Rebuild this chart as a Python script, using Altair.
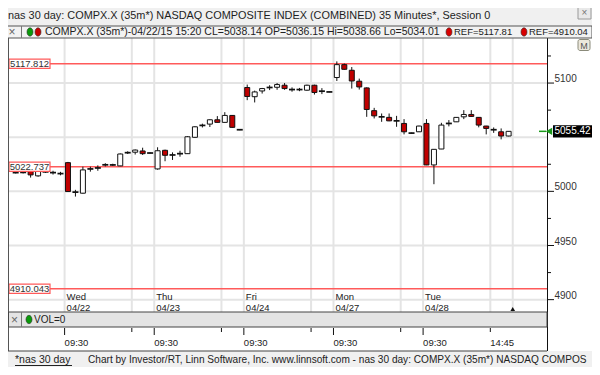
import altair as alt
import pandas as pd

# ---------------- data ----------------
day_names = ["Wed", "Thu", "Fri", "Mon", "Tue"]
day_dates = ["04/22", "04/23", "04/24", "04/27", "04/28"]
bars_per_day = 12          # 35-minute bars, 09:30 .. 15:55
prior_bars = 7             # bars of Tue 04/21 still visible at the left
bar_1445 = 9               # 09:30 + 9*35min = 14:45

opens = [5017.3, 5017.5, 5018.9, 5014.3, 5018.0, 5017.3, 5016.4,
         5026.5, 4999.3, 4998.3, 5020.7, 5021.6, 5024.5, 5024.4, 5023.5, 5035.7, 5036.15, 5037.3, 5035.4,
         5020.7, 5037.9, 5033.6, 5034.8, 5034.8, 5049.9, 5060.9, 5062.1, 5066.1, 5063.7, 5070.1, 5056.9,
         5095.9, 5087.4, 5092.7, 5095.9, 5096.1, 5098.0, 5094.0, 5094.0, 5093.4, 5098.0, 5092.5, 5091.8,
         5105.1, 5117.0, 5111.8, 5101.7, 5095.5, 5074.5, 5068.8, 5068.3, 5065.1, 5062.7, 5053.8, 5055.0,
         5062.7, 5024.4, 5039.1, 5062.7, 5064.2, 5068.8, 5071.0, 5068.3, 5060.3, 5056.9, 5055.0, 5051.1]
highs = [5018.5, 5018.5, 5019.5, 5019.5, 5019.0, 5019.0, 5018.0,
         5027.2, 5001.4, 5022.8, 5022.8, 5024.0, 5026.0, 5025.5, 5035.0, 5037.0, 5038.66, 5040.3, 5036.0,
         5040.7, 5038.5, 5036.0, 5037.5, 5051.0, 5060.0, 5062.5, 5066.5, 5069.5, 5073.1, 5070.5, 5057.3,
         5098.6, 5093.0, 5095.5, 5098.0, 5100.0, 5100.0, 5096.0, 5095.5, 5098.5, 5098.5, 5095.3, 5092.0,
         5120.0, 5118.0, 5114.8, 5104.1, 5096.0, 5077.1, 5071.9, 5071.9, 5069.7, 5066.7, 5054.2, 5060.6,
         5066.7, 5039.0, 5063.3, 5065.8, 5068.5, 5075.0, 5075.0, 5068.5, 5060.5, 5059.0, 5058.1, 5055.6]
lows = [5016.5, 5016.5, 5012.7, 5013.5, 5017.0, 5015.5, 5014.8,
        4999.5, 4995.2, 4998.0, 5018.2, 5019.0, 5023.0, 5023.5, 5023.3, 5034.5, 5034.01, 5033.6, 5035.0,
        5020.0, 5027.8, 5029.0, 5032.0, 5034.5, 5049.5, 5059.0, 5059.4, 5063.5, 5063.5, 5058.8, 5056.5,
        5084.2, 5082.1, 5090.3, 5093.5, 5093.8, 5093.8, 5092.0, 5092.5, 5093.0, 5089.4, 5089.8, 5091.5,
        5101.9, 5112.3, 5094.9, 5094.0, 5068.8, 5067.3, 5064.2, 5064.8, 5059.6, 5052.6, 5053.4, 5054.8,
        5024.2, 5006.6, 5039.0, 5060.0, 5064.0, 5066.7, 5068.8, 5059.1, 5052.6, 5054.0, 5048.0, 5050.8]
closes = [5017.3, 5017.5, 5015.2, 5018.9, 5018.0, 5017.3, 5016.4,
          4999.8, 4999.3, 5019.8, 5020.7, 5021.6, 5024.5, 5024.4, 5034.5, 5035.7, 5038.14, 5034.8, 5035.4,
          5037.5, 5033.3, 5033.6, 5034.8, 5050.4, 5059.6, 5060.9, 5066.1, 5063.7, 5070.1, 5059.1, 5056.9,
          5087.6, 5091.8, 5094.9, 5095.9, 5098.6, 5094.9, 5094.0, 5094.0, 5098.0, 5091.3, 5092.5, 5091.8,
          5117.0, 5112.7, 5101.9, 5096.4, 5075.6, 5069.7, 5068.8, 5065.1, 5065.1, 5055.0, 5053.8, 5060.3,
          5024.4, 5038.8, 5061.2, 5062.7, 5068.3, 5071.0, 5069.2, 5061.2, 5058.1, 5056.9, 5051.1, 5055.42]

ref_levels = [5117.812, 5022.737, 4910.043]
grid_levels = [5100, 5050, 5000, 4950, 4900]
axis_minor = [4925, 4975, 5025, 5075, 5125]
axis_major = [4900, 4950, 5000, 5100]
last_price = 5055.42

title_text = "nas 30 day: COMPX.X (35m*) NASDAQ COMPOSITE INDEX (COMBINED) 35 Minutes*, Session 0"
header_text = "COMPX.X (35m*)-04/22/15 15:20 CL=5038.14 OP=5036.15 Hi=5038.66 Lo=5034.01"
ref_header = ["REF=5117.81", "REF=4910.04"]
footer_link = "*nas 30 day"
footer_text = "Chart by Investor/RT, Linn Software, Inc. www.linnsoft.com - nas 30 day: COMPX.X (35m*) NASDAQ COMPOS"

# ---------------- tables ----------------
rows = []
for k, (o, h, l, c) in enumerate(zip(opens, highs, lows, closes)):
    kind = "up" if c > o + 0.05 else ("down" if c < o - 0.05 else "doji")
    rows.append({"i": k - prior_bars, "o": o, "h": h, "l": l, "c": c, "kind": kind})
candles = pd.DataFrame(rows)

start_ticks = [d * bars_per_day - 0.45 for d in range(len(day_names))]
mid_ticks = [d * bars_per_day + bar_1445 - 0.45 for d in range(len(day_names))]
next_day_tick = len(day_names) * bars_per_day - 0.45
vgrid = pd.DataFrame({"i": start_ticks + mid_ticks + [next_day_tick]})
days_df = pd.DataFrame({"i": start_ticks, "name": day_names, "date": day_dates})
mid_df = pd.DataFrame({"i": mid_ticks})
last_mid_df = pd.DataFrame({"i": [mid_ticks[-1]], "t": ["14:45"]})
hgrid = pd.DataFrame({"v": grid_levels})
refs = pd.DataFrame({"v": ref_levels, "label": [f"{v:.3f}" for v in ref_levels]})
minor_df = pd.DataFrame({"v": axis_minor})
major_df = pd.DataFrame({"v": axis_major, "label": [str(v) for v in axis_major]})
price_df = pd.DataFrame({"v": [last_price], "label": [f"{last_price:.2f}"]})
now_df = pd.DataFrame({"i": [next_day_tick]})
one = pd.DataFrame({"a": [0]})

# ---------------- geometry ----------------
W, H = 539, 274
XS = alt.Scale(domain=[-7.3587, 63.469], nice=False, zero=False)
YS = alt.Scale(domain=[4888.6, 5141.6], nice=False, zero=False)
FONT = "Liberation Sans"


def X(f="i"):
    return alt.X(f"{f}:Q", scale=XS, axis=None)


def Y(f="v"):
    return alt.Y(f"{f}:Q", scale=YS, axis=None)


def box(x, x2, y, y2, fill, stroke=None, sw=1.0):
    kw = {"fill": fill}
    if stroke:
        kw.update(stroke=stroke, strokeWidth=sw)
    return alt.Chart(one).mark_rect(**kw).encode(
        x=alt.value(x), x2=alt.value(x2), y=alt.value(y), y2=alt.value(y2))


def line(x, x2, y, y2, color, sw=1.0):
    return alt.Chart(one).mark_rule(color=color, strokeWidth=sw).encode(
        x=alt.value(x), x2=alt.value(x2), y=alt.value(y), y2=alt.value(y2))


def txt(s, x, y, size=10, color="#222", font=FONT, align="left", baseline="middle", weight="normal"):
    return alt.Chart(one).mark_text(text=s, align=align, baseline=baseline, fontSize=size,
                                    font=font, color=color, fontWeight=weight).encode(
        x=alt.value(x), y=alt.value(y))


def oval(x, y, color, size=70):
    return alt.Chart(one).mark_point(
        shape="M0,-1A0.72,1 0 1,1 0,1A0.72,1 0 1,1 0,-1Z", filled=True, size=size,
        fill=color, stroke="#333", strokeWidth=0.6, opacity=1).encode(x=alt.value(x), y=alt.value(y))


layers = []
# panels
layers.append(box(0, 584, 0, 313, "#ffffff"))
# gridlines
layers.append(alt.Chart(hgrid).mark_rule(color="#e4e4e4", strokeWidth=2).encode(
    y=Y(), x=alt.value(0), x2=alt.value(W)))
layers.append(alt.Chart(vgrid).mark_rule(color="#e4e4e4", strokeWidth=2).encode(
    x=X(), y=alt.value(0), y2=alt.value(H)))
# reference lines
layers.append(alt.Chart(refs).mark_rule(color="#ff5a5a", strokeWidth=1.6).encode(
    y=Y(), x=alt.value(0), x2=alt.value(W)))
# day labels
layers.append(alt.Chart(days_df).mark_text(align="left", baseline="middle", dx=2, fontSize=9.5,
                                           font=FONT, color="#222").encode(
    x=X(), y=alt.value(259), text="name:N"))
layers.append(alt.Chart(days_df).mark_text(align="left", baseline="middle", dx=2, fontSize=9.5,
                                           font=FONT, color="#222").encode(
    x=X(), y=alt.value(270), text="date:N"))
# candles
layers.append(alt.Chart(candles).mark_rule(color="#111", strokeWidth=1).encode(
    x=X(), y=Y("l"), y2="h:Q"))
layers.append(alt.Chart(candles).transform_filter("datum.kind != 'doji'").mark_bar(
    width=5, stroke="#111", strokeWidth=1).encode(
    x=X(), y=Y("o"), y2="c:Q",
    fill=alt.Fill("kind:N", scale=alt.Scale(domain=["up", "down"], range=["#ffffff", "#c00000"]),
                  legend=None)))
layers.append(alt.Chart(candles).transform_filter("datum.kind == 'doji'").transform_calculate(
    lo="datum.c - 0.8", hi="datum.c + 0.8").mark_bar(width=6, fill="#111").encode(
    x=X(), y=Y("lo"), y2="hi:Q"))
# reference labels
layers.append(alt.Chart(refs).transform_calculate(lo="datum.v - 4.3", hi="datum.v + 4.3").mark_rect(
    fill="#ffffff", stroke="#ff5a5a", strokeWidth=1.2).encode(
    y=Y("lo"), y2="hi:Q", x=alt.value(1), x2=alt.value(42)))
layers.append(alt.Chart(refs).mark_text(align="center", baseline="middle", fontSize=9.5, font=FONT,
                                        color="#333").encode(
    y=Y(), x=alt.value(21.5), text="label:N"))
# right axis
layers.append(line(539.5, 539.5, 0, 313, "#111", 1))
layers.append(alt.Chart(minor_df).mark_rule(color="#111").encode(
    y=Y(), x=alt.value(539), x2=alt.value(543)))
layers.append(alt.Chart(major_df).mark_rule(color="#111").encode(
    y=Y(), x=alt.value(539), x2=alt.value(546)))
layers.append(alt.Chart(major_df).mark_text(align="left", baseline="alphabetic", dy=-1, fontSize=10,
                                            font=FONT, color="#333").encode(
    y=Y(), x=alt.value(546.5), text="label:N"))
# last price marker
layers.append(alt.Chart(price_df).transform_calculate(lo="datum.v - 5.6", hi="datum.v + 5.6").mark_rect(
    fill="#000000").encode(y=Y("lo"), y2="hi:Q", x=alt.value(545), x2=alt.value(584)))
layers.append(alt.Chart(price_df).mark_text(align="left", baseline="middle", fontSize=10, font=FONT,
                                            color="#ffffff").encode(
    y=Y(), x=alt.value(546.5), text="label:N"))
layers.append(alt.Chart(price_df).mark_rule(color="#1a9a1a", strokeWidth=1.5).encode(
    y=Y(), x=alt.value(531), x2=alt.value(538)))
layers.append(alt.Chart(price_df).mark_point(shape="triangle-left", filled=True, size=55,
                                             color="#1a9a1a", opacity=1).encode(
    y=Y(), x=alt.value(541)))
# "M" button
layers.append(alt.Chart(one).mark_rect(fill="#ece8dc", stroke="#8a8a7a", strokeWidth=1,
                                       cornerRadius=2).encode(
    x=alt.value(570), x2=alt.value(582), y=alt.value(1.5), y2=alt.value(12.5)))
layers.append(txt("M", 576, 7.5, size=9, color="#555", align="center"))
# current-bar marker
layers.append(alt.Chart(now_df).mark_point(shape="triangle-up", filled=True, size=22, color="#111",
                                           opacity=1).encode(x=X(), y=alt.value(271)))
# left border of main panel
layers.append(line(0.5, 0.5, 0, 313, "#555", 1))

# header strip
layers.append(box(-6, 584, -12, 0, "#f2f2f2", "#555", 1))
layers.append(line(13.5, 13.5, -12, 0, "#777", 1))
layers.append(txt("\u00d7", 4, -6, size=12, color="#666", align="center"))
layers.append(oval(22, -6, "#0a9a0a"))
layers.append(oval(30, -6, "#c80000"))
layers.append(txt(header_text, 37, -6, size=10.5))
layers.append(oval(441, -6, "#d80000"))
layers.append(txt(ref_header[0], 446, -6, size=9.5))
layers.append(oval(516, -6, "#d80000"))
layers.append(txt(ref_header[1], 521, -6, size=9.5))
# title bar
layers.append(txt(title_text, 0, -19.4, size=10.9, color="#1e1e1e", baseline="alphabetic"))
layers.append(box(570, 583, -31, -19, "#e9e9e9", "#9a9a9a", 1))
layers.append(txt("\u00d7", 576.5, -25, size=10, color="#777", align="center"))

# VOL strip
layers.append(box(0.5, W, H, 289, "#e4e4e4", "#444", 1))
layers.append(line(13.5, 13.5, H, 289, "#777", 1))
layers.append(txt("\u00d7", 6.5, 281.5, size=12, color="#666", align="center"))
layers.append(oval(21, 281.5, "#0a9a0a"))
layers.append(txt("VOL=0", 26, 281.5, size=10))
# time axis panel
layers.append(line(0, W, 313, 313, "#444", 1.2))
layers.append(alt.Chart(days_df).mark_rule(color="#111").encode(
    x=X(), y=alt.value(290), y2=alt.value(297)))
layers.append(alt.Chart(mid_df).mark_rule(color="#111").encode(
    x=X(), y=alt.value(290), y2=alt.value(294)))
layers.append(alt.Chart(days_df).transform_calculate(t="'09:30'").mark_text(
    align="left", baseline="middle", fontSize=9.5, font=FONT, color="#222").encode(
    x=X(), y=alt.value(305), text="t:N"))
layers.append(alt.Chart(last_mid_df).mark_text(
    align="left", baseline="middle", fontSize=9.5, font=FONT, color="#222").encode(
    x=X(), y=alt.value(305), text="t:N"))
# footer
layers.append(txt(footer_link, 7, 322, size=10.5, color="#222"))
layers.append(line(7, 64, 327.5, 327.5, "#222", 1))
layers.append(txt(footer_text, 80, 322, size=10.1, color="#222"))

chart = alt.layer(*layers).properties(
    width=W, height=H,
    padding={"left": 0, "top": 30, "right": 45, "bottom": 55},
    autosize=alt.AutoSizeParams(type="none"),
    background="#f0f0f0",
).configure_view(stroke=None)

chart.save("out.html", embed_options={"renderer": "svg", "actions": False})
